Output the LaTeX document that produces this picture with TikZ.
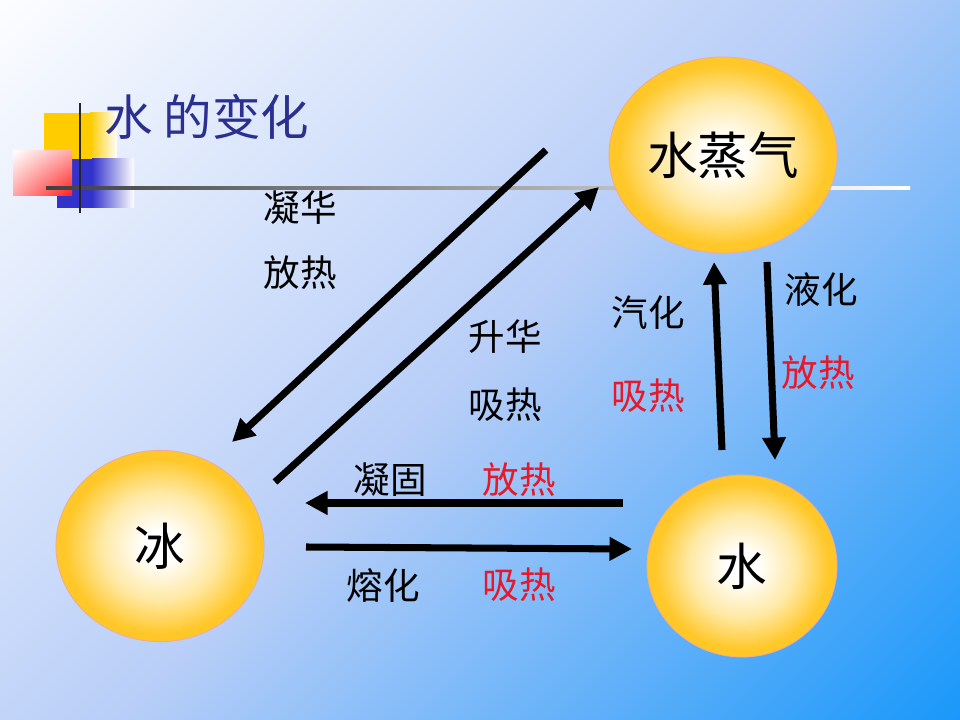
\documentclass[tikz,border=0pt]{standalone}
\usepackage{fontspec}
\setmainfont{Noto Sans CJK SC}
\usepackage{tikz}
\usetikzlibrary{arrows.meta,shapes.geometric,shadings}

\definecolor{titleblue}{RGB}{43,47,143}
\definecolor{heatred}{RGB}{232,24,40}
\definecolor{sungold}{RGB}{255,199,40}
\definecolor{sunmid}{RGB}{255,233,165}
\definecolor{sunrim}{RGB}{240,170,150}
\definecolor{bgwhite}{RGB}{252,253,255}
\definecolor{bgmid}{RGB}{184,206,248}
\definecolor{bgblue}{RGB}{26,152,250}
\definecolor{decoyellow}{RGB}{255,204,0}
\definecolor{decored}{RGB}{255,30,30}
\definecolor{decoblue}{RGB}{51,51,204}

\pgfdeclareradialshading{sunball}{\pgfpoint{0bp}{0bp}}{%
  color(0bp)=(white); color(4bp)=(white); color(14bp)=(sunmid);
  color(23bp)=(sungold); color(50bp)=(sungold)}
\pgfdeclareverticalshading{skyfade}{100bp}{%
  color(0bp)=(bgblue); color(14.64bp)=(bgblue); color(50bp)=(bgmid);
  color(85.36bp)=(bgwhite); color(100bp)=(bgwhite)}

\begin{document}
\begin{tikzpicture}[
    x=0.025cm, y=-0.025cm,
    ball/.style={
        ellipse,
        draw=sunrim,
        line width=0.6pt,
        shade,
        shading=sunball,
        font=\fontsize{36}{40}\selectfont
    },
    flow/.style={
        line width=5pt,
        -{Triangle[length=16pt,width=16pt]}
    },
    lab/.style={font=\fontsize{26}{30}\selectfont, inner sep=0pt},
    heat/.style={lab, text=heatred}
]

    % Fons
    \useasboundingbox (0,0) rectangle (960,720);
    \shade[shading=skyfade, shading angle=45] (0,0) rectangle (960,720);

    % Decoració del títol
    \fill[decoyellow] (44,113) rectangle (90,160);
    \shade[left color=decoyellow, right color=white] (90,113) rectangle (117,160);
    \fill[decoblue] (57,159) rectangle (92,208);
    \shade[left color=decoblue, right color=white] (92,159) rectangle (134,208);
    \shade[
        upper left=white,
        upper right=decored!40!white,
        lower left=decored!40!white,
        lower right=decored
    ] (13,151) rectangle (72,196);
    \shade[left color=black!75, right color=white] (46,186.5) rectangle (910,189.5);
    \draw[line width=1.6pt, black!85] (80,103) -- (80,213);

    % Títol
    \node[
        anchor=west,
        inner sep=0pt,
        text=titleblue,
        font=\fontsize{34.5}{40}\selectfont
    ] (title) at (104,117) {水 的变化};

    % Estats
    \node[ball, minimum width=5.35cm, minimum height=4.9cm] (vapor) at (723,155) {水蒸气};
    \node[ball, minimum width=5.2cm, minimum height=4.78cm] (ice) at (160,546) {冰};
    \node[ball, minimum width=4.75cm, minimum height=4.55cm] (water) at (742,566) {水};

    % Extrems de les fletxes
    \coordinate (desub-s) at (546,150);
    \coordinate (desub-e) at (232,442);
    \coordinate (sub-s) at (275,482);
    \coordinate (sub-e) at (599,187);
    \coordinate (evap-s) at (722,450);
    \coordinate (evap-e) at (714,262);
    \coordinate (cond-s) at (767,262);
    \coordinate (cond-e) at (775,460);
    \coordinate (frz-s) at (623,503);
    \coordinate (frz-e) at (305,503);
    \coordinate (melt-s) at (306,547);
    \coordinate (melt-e) at (632,549);

    % Fletxes
    \draw[flow] (desub-s) -- (desub-e);
    \draw[flow] (sub-s) -- (sub-e);
    \draw[flow] (evap-s) -- (evap-e);
    \draw[flow] (cond-s) -- (cond-e);
    \draw[flow] (frz-s) -- (frz-e);
    \draw[flow] (melt-s) -- (melt-e);

    % Etiquetes
    \node[lab] (desub-name) at (300,208) {凝华};
    \node[lab] (desub-heat) at (300,273) {放热};
    \node[lab] (sub-name) at (505,337) {升华};
    \node[lab] (sub-heat) at (505,405) {吸热};
    \node[lab] (evap-name) at (648,313) {汽化};
    \node[heat] (evap-heat) at (648,396) {吸热};
    \node[lab] (cond-name) at (821,290) {液化};
    \node[heat] (cond-heat) at (818,373) {放热};
    \node[lab] (frz-name) at (390,480) {凝固};
    \node[heat] (frz-heat) at (519,480) {放热};
    \node[lab] (melt-name) at (383,585) {熔化};
    \node[heat] (melt-heat) at (519,585) {吸热};

\end{tikzpicture}
\end{document}
